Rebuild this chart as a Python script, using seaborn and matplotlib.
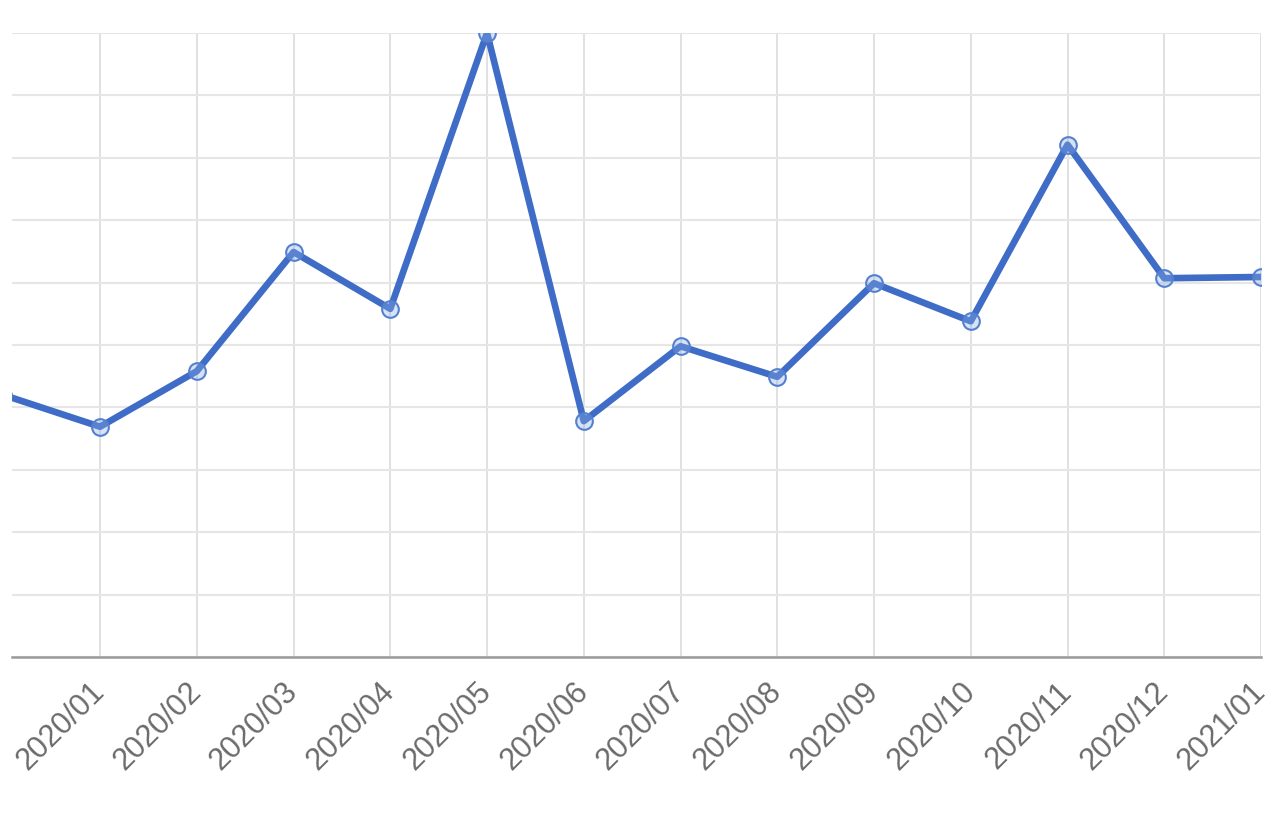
import matplotlib
matplotlib.use("Agg")
import matplotlib.pyplot as plt
import seaborn as sns
import pandas as pd

months = ["2019/12", "2020/01", "2020/02", "2020/03", "2020/04", "2020/05", "2020/06",
          "2020/07", "2020/08", "2020/09", "2020/10", "2020/11", "2020/12", "2021/01"]
values = [4.2, 3.69, 4.58, 6.49, 5.58, 10.0, 3.78, 4.98, 4.49, 5.99, 5.38, 8.21, 6.07, 6.09]
tick_labels = months[1:]

df = pd.DataFrame({"idx": list(range(-1, len(months) - 1)), "value": values})

sns.set_style("white")
plt.rcParams['font.family'] = ['Liberation Sans', 'DejaVu Sans']

fig = plt.figure(figsize=(12.8, 8.18), dpi=100)
ax = fig.add_axes([12/1280, (818-657)/818, (1261-12)/1280, (657-33)/818])

line_color = "#3f6cc6"
sns.lineplot(data=df, x="idx", y="value", ax=ax, color=line_color, linewidth=4.8,
             marker="o", markersize=12, markerfacecolor=(0.55, 0.68, 0.9, 0.35),
             markeredgecolor="#5580d2", markeredgewidth=1.5, zorder=3, clip_on=True)

ax.set_xlim(-0.91, 12)
ax.set_ylim(0, 10)
ax.set_yticks([i for i in range(0, 11)])
ax.set_yticklabels([])
ax.set_xticks(list(range(0, 13)))
ax.set_xticklabels(tick_labels, rotation=45, ha="right", va="center", rotation_mode="anchor",
                   fontsize=22, color="#6b6b6b")
ax.tick_params(axis="x", length=18, width=1.2, color="#dedede", pad=4)
ax.tick_params(axis="y", length=0)

ax.grid(True, axis="y", color="#e6e6e6", linewidth=1.5, zorder=0)
ax.grid(True, axis="x", color="#dcdcdc", linewidth=1.2, zorder=0)
ax.set_axisbelow(True)

for s in ["top", "left", "right"]:
    ax.spines[s].set_visible(False)
ax.spines["bottom"].set_color("#9a9a9a")
ax.spines["bottom"].set_linewidth(1.8)
ax.set_xlabel("")
ax.set_ylabel("")

fig.savefig("out.png", dpi=100, facecolor="white")
